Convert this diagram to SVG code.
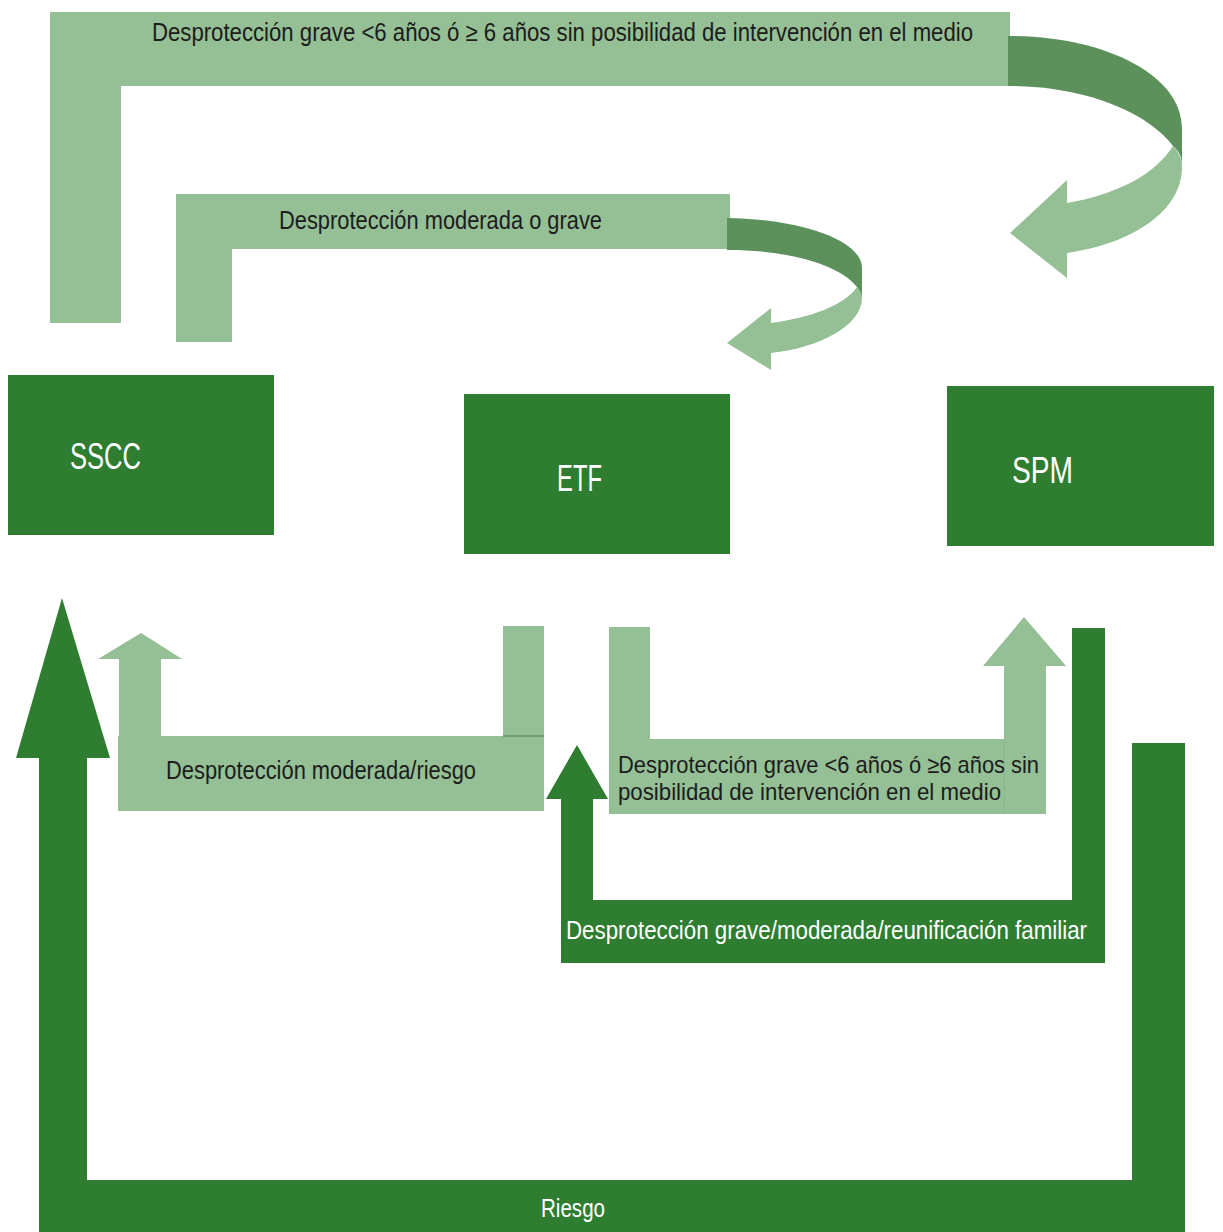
<svg xmlns="http://www.w3.org/2000/svg" width="1223" height="1232" viewBox="0 0 1223 1232">
<style>
.light{fill:#95bf95}
.mid{fill:#5c915c}
.dark{fill:#2e7d31}
.node{fill:#2e7d31}
.t{font-family:"Liberation Sans","DejaVu Sans",sans-serif;font-size:26px;fill:#1c1c1c}
.t2{font-family:"Liberation Sans","DejaVu Sans",sans-serif;font-size:24px;fill:#1c1c1c}
.tw{font-family:"Liberation Sans","DejaVu Sans",sans-serif;font-size:26px;fill:#ffffff}
.tn{font-family:"Liberation Sans","DejaVu Sans",sans-serif;font-size:37px;fill:#ffffff}
</style>
<rect width="1223" height="1232" fill="#ffffff"/>
<g id="connectors">
  <g id="c-top">
    <path class="light" d="M50,12 H1010 V86 H121 V323 H50 Z"/>
    <path class="mid" d="M1008,36 C1105,36 1182,75 1182,128 L1182,167 C1182,157 1179,151 1173,146 C1150,115 1090,86 1008,86 Z"/>
    <path class="light" d="M1173,146 C1179,152 1182,160 1182,167 C1182,210 1135,243 1067,253 L1067,278 L1010,233 L1067,180 L1067,203 C1115,195 1155,175 1173,146 Z"/>
    <text class="t" x="152" y="41" textLength="821" lengthAdjust="spacingAndGlyphs">Desprotección grave &lt;6 años ó ≥ 6 años sin posibilidad de intervención en el medio</text>
  </g>
  <g id="c-second">
    <path class="light" d="M176,194 H730 V249 H232 V342 H176 Z"/>
    <path class="mid" d="M727,218 C800,219 862,240 862,268 L862,298 C861,293 859,290 857,287 C840,265 790,250 727,250 Z"/>
    <path class="light" d="M857,287 C860,290 862,294 862,298 C862,325 820,348 771,353 L771,370 L727,343 L771,308 L771,323 C810,318 845,305 857,287 Z"/>
    <text class="t" x="279" y="229" textLength="323" lengthAdjust="spacingAndGlyphs">Desprotección moderada o grave</text>
  </g>
  <g id="c-riesgo">
    <path class="dark" d="M62,598 L110,758 H87 V1180 H1132 V743 H1185 V1232 H39 V758 H16 Z"/>
    <text class="tw" x="541" y="1217" textLength="64" lengthAdjust="spacingAndGlyphs">Riesgo</text>
  </g>
  <g id="c-moderada-riesgo">
    <path class="light" d="M98,659 L141,633 L182,659 H161 V736 H119 V659 Z"/>
    <rect class="light" x="118" y="736" width="426" height="75"/>
    <rect class="light" x="503" y="626" width="41" height="110"/>
    <line x1="503" y1="736" x2="544" y2="736" stroke="#6f9f6f" stroke-width="2"/>
    <text class="t" x="166" y="779" textLength="310" lengthAdjust="spacingAndGlyphs">Desprotección moderada/riesgo</text>
  </g>
  <g id="c-etf-spm">
    <path class="light" d="M609,627 H650 V739 H1004 V666 H983 L1024,617 L1066,666 H1046 V814 H609 Z"/>
    <line x1="1004" y1="739" x2="1004" y2="813" stroke="#8ab58a" stroke-width="1"/>
    <text class="t2" x="618" y="773" textLength="421" lengthAdjust="spacingAndGlyphs">Desprotección grave &lt;6 años ó ≥6 años sin</text>
    <text class="t2" x="618" y="800" textLength="383" lengthAdjust="spacingAndGlyphs">posibilidad de intervención en el medio</text>
  </g>
  <g id="c-spm-etf">
    <path class="dark" d="M577,745 L608,799 H593 V900 H1072 V628 H1105 V963 H561 V799 H546 Z"/>
    <text class="tw" x="566" y="939" textLength="521" lengthAdjust="spacingAndGlyphs">Desprotección grave/moderada/reunificación familiar</text>
  </g>
</g>
<g id="node-sscc">
  <rect class="node" x="8" y="375" width="266" height="160"/>
  <text class="tn" x="70" y="469" textLength="71" lengthAdjust="spacingAndGlyphs">SSCC</text>
</g>
<g id="node-etf">
  <rect class="node" x="464" y="394" width="266" height="160"/>
  <text class="tn" x="557" y="491" textLength="45" lengthAdjust="spacingAndGlyphs">ETF</text>
</g>
<g id="node-spm">
  <rect class="node" x="947" y="386" width="267" height="160"/>
  <text class="tn" x="1012" y="483" textLength="61" lengthAdjust="spacingAndGlyphs">SPM</text>
</g>
</svg>
